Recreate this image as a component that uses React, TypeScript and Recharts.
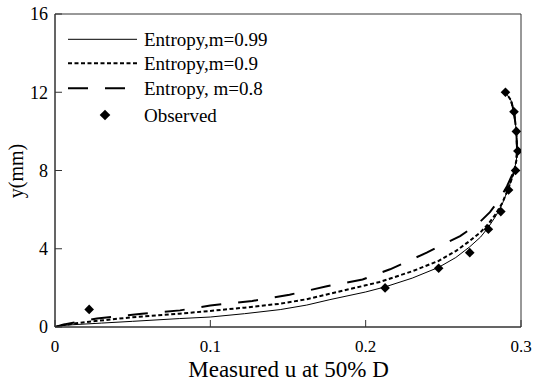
import React from 'react';
import { ComposedChart, Line, Scatter, XAxis, YAxis, ReferenceArea, Legend } from 'recharts';

const FONT = 'Liberation Serif';

// Entropy, m=0.99 (solid)
const uM099 = [0, 0.003, 0.01, 0.03, 0.05, 0.08, 0.1, 0.122, 0.145, 0.162, 0.177, 0.2, 0.2125, 0.23, 0.247, 0.258, 0.267, 0.274, 0.279, 0.284, 0.288, 0.292, 0.295, 0.297, 0.2975, 0.297, 0.2955, 0.2935, 0.29];
const yM099 = [0, 0.06, 0.11, 0.2, 0.29, 0.43, 0.51, 0.68, 0.89, 1.12, 1.4, 1.79, 2.05, 2.5, 3.05, 3.55, 4.1, 4.6, 5.1, 5.7, 6.3, 7.1, 7.8, 8.5, 9.0, 10.0, 11.0, 11.6, 12.0];

// Entropy, m=0.9 (short dash)
const uM09 = [0, 0.005, 0.022, 0.05, 0.08, 0.1, 0.122, 0.145, 0.162, 0.177, 0.2, 0.209, 0.23, 0.247, 0.258, 0.267, 0.274, 0.279, 0.284, 0.288, 0.292, 0.295, 0.297, 0.2975, 0.297, 0.2955, 0.2935, 0.29];
const yM09 = [0, 0.1, 0.27, 0.5, 0.68, 0.82, 0.99, 1.19, 1.42, 1.7, 2.13, 2.3, 2.85, 3.38, 3.88, 4.4, 4.85, 5.27, 5.8, 6.35, 7.1, 7.8, 8.5, 9.0, 10.0, 11.0, 11.6, 12.0];

// Entropy, m=0.8 (long dash)
const uM08 = [0, 0.005, 0.027, 0.056, 0.0805, 0.1, 0.127, 0.151, 0.175, 0.198, 0.2157, 0.2393, 0.2608, 0.272, 0.28, 0.286, 0.291, 0.295, 0.297, 0.2975, 0.297, 0.2955, 0.2935, 0.29];
const yM08 = [0, 0.12, 0.44, 0.68, 0.85, 1.1, 1.33, 1.65, 2.08, 2.43, 2.95, 3.8, 4.65, 5.25, 5.87, 6.5, 7.2, 7.9, 8.5, 9.0, 10.0, 11.0, 11.6, 12.0];

// Observed
const uObs = [0.022, 0.2125, 0.247, 0.267, 0.279, 0.287, 0.292, 0.2965, 0.298, 0.297, 0.2955, 0.29];
const yObs = [0.9, 2.0, 3.0, 3.8, 5.0, 5.9, 7.0, 8.0, 9.0, 10.0, 11.0, 12.0];

const xTicks = [0, 0.1, 0.2, 0.3];
const xTickLabels = ['0', '0.1', '0.2', '0.3'];
const yTicks = [0, 4, 8, 12, 16];
const yTickLabels = ['0', '4', '8', '12', '16'];

const seriesNames = ['Entropy,m=0.99', 'Entropy,m=0.9', 'Entropy, m=0.8', 'Observed'];
const xLabel = 'Measured u at 50% D';
const yLabel = 'y(mm)';

const zip = (u: number[], y: number[]) => u.map((v, i) => ({ u: v, y: y[i] }));
const dM099 = zip(uM099, yM099);
const dM09 = zip(uM09, yM09);
const dM08 = zip(uM08, yM08);
const dObs = zip(uObs, yObs);

const Diamond = (props: any) => {
  const { cx, cy } = props;
  const r = 4.8;
  return <polygon points={`${cx},${cy - r} ${cx + r},${cy} ${cx},${cy + r} ${cx - r},${cy}`} fill="#000" />;
};

const YTick = (props: any) => {
  const { x, y, payload } = props;
  return (
    <g>
      <line x1={x} x2={x + 7} y1={y} y2={y} stroke="#333" />
      <text x={x - 7} y={y} dy="0.35em" textAnchor="end" fontFamily={FONT} fontSize={18} fill="#000">
        {yTickLabels[yTicks.indexOf(payload.value)] ?? payload.value}
      </text>
    </g>
  );
};

const XTick = (props: any) => {
  const { x, y, payload } = props;
  return (
    <g>
      <line x1={x} x2={x} y1={y} y2={y - 7} stroke="#333" />
      <text x={x} y={y + 25} textAnchor="middle" fontFamily={FONT} fontSize={17} fill="#000">
        {xTickLabels[xTicks.indexOf(payload.value)] ?? payload.value}
      </text>
    </g>
  );
};

const LegendContent = () => {
  const rows = [14.3, 38.3, 63.3, 90];
  return (
    <svg width={230} height={105} style={{ overflow: 'visible' }}>
      <line x1={8} x2={77} y1={rows[0]} y2={rows[0]} stroke="#000" strokeWidth={1} />
      <line x1={8} x2={77} y1={rows[1]} y2={rows[1]} stroke="#000" strokeWidth={2} strokeDasharray="4 2.5" />
      <line x1={8} x2={77} y1={rows[2]} y2={rows[2]} stroke="#000" strokeWidth={2} strokeDasharray="20 17" />
      <polygon points={`45,${rows[3] - 5.3} 50.3,${rows[3]} 45,${rows[3] + 5.3} 39.7,${rows[3]}`} fill="#000" />
      {seriesNames.map((n, i) => (
        <text key={n} x={84} y={rows[i]} dy="0.35em" fontFamily={FONT} fontSize={19} fill="#000">
          {n}
        </text>
      ))}
    </svg>
  );
};

export default function App() {
  return (
    <div style={{ position: 'absolute', left: 0, top: 0, width: 533, height: 383, background: '#fff', fontFamily: FONT }}>
      <ComposedChart width={533} height={383} margin={{ top: 14, right: 12, left: 0, bottom: 0 }}>
        <XAxis
          dataKey="u"
          type="number"
          domain={[0, 0.3]}
          ticks={xTicks}
          allowDataOverflow
          height={56}
          tickSize={0}
          tickMargin={0}
          tickLine={false}
          tick={<XTick />}
          axisLine={{ stroke: '#333' }}
        />
        <YAxis
          dataKey="y"
          type="number"
          domain={[0, 16]}
          ticks={yTicks}
          allowDataOverflow
          width={55}
          tickSize={0}
          tickMargin={0}
          tickLine={false}
          tick={<YTick />}
          axisLine={{ stroke: '#333' }}
        />
        <ReferenceArea x1={0} x2={0.3} y1={0} y2={16} fill="none" stroke="#333" strokeWidth={1} />
        <Legend layout="vertical" align="center" verticalAlign="middle" content={<LegendContent />} wrapperStyle={{ left: 60, top: 25, width: 230, height: 105 }} />
        <Line data={dM099} dataKey="y" name={seriesNames[0]} type="linear" stroke="#000" strokeWidth={1} dot={false} isAnimationActive={false} />
        <Line data={dM09} dataKey="y" name={seriesNames[1]} type="linear" stroke="#000" strokeWidth={2} strokeDasharray="4 2.5" dot={false} isAnimationActive={false} />
        <Line data={dM08} dataKey="y" name={seriesNames[2]} type="linear" stroke="#000" strokeWidth={2} strokeDasharray="20 17" dot={false} isAnimationActive={false} />
        <Scatter data={dObs} dataKey="y" name={seriesNames[3]} shape={<Diamond />} fill="#000" isAnimationActive={false} />
      </ComposedChart>
      <div style={{ position: 'absolute', left: 0, width: 577, top: 357.5, textAlign: 'center', fontFamily: FONT, fontSize: 23, lineHeight: '23px', color: '#000' }}>
        {xLabel}
      </div>
      <div style={{ position: 'absolute', left: 16, top: 170.5, transform: 'translate(-50%, -50%) rotate(-90deg)', fontFamily: FONT, fontSize: 20, lineHeight: '20px', whiteSpace: 'nowrap', color: '#000' }}>
        {yLabel}
      </div>
    </div>
  );
}
